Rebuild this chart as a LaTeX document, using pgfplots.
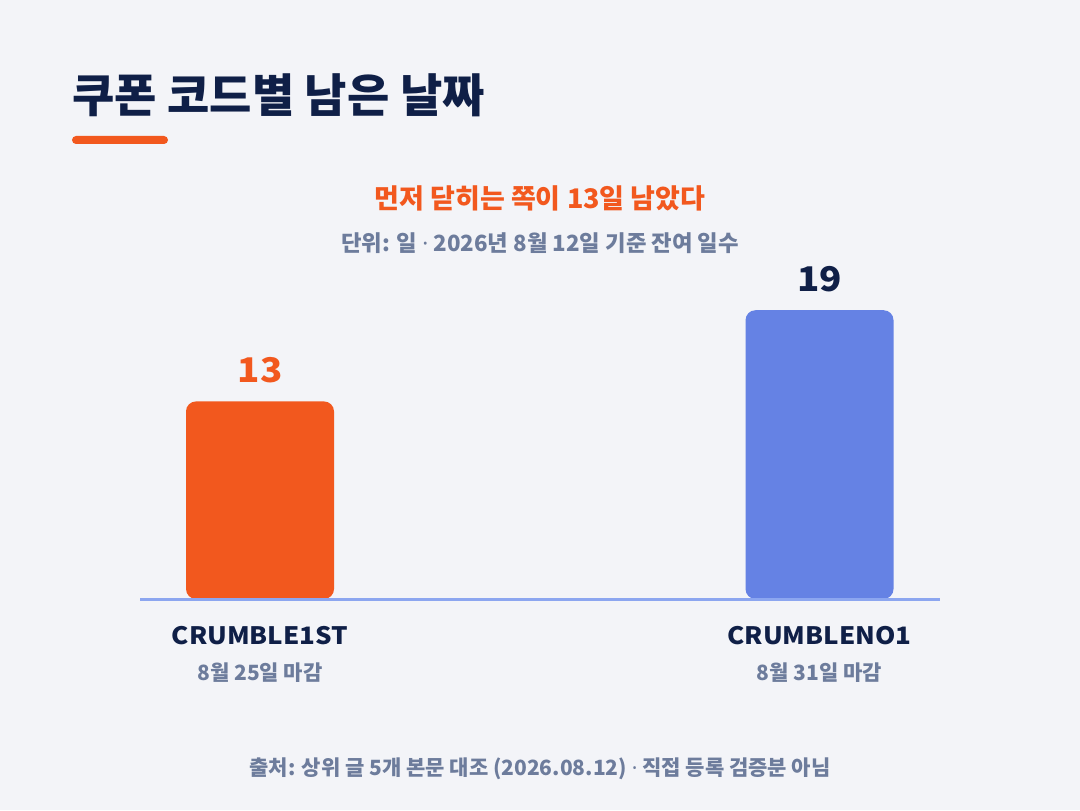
\documentclass[border=0pt]{standalone}
\usepackage{fontspec}
\setmainfont{Noto Sans CJK KR}
\newfontfamily\widefont{Noto Sans CJK KR}[FakeStretch=1.08]
\newfontfamily\latinfont{Noto Sans}
\usepackage{pgfplots}
\pgfplotsset{compat=1.18}

\definecolor{bgc}{HTML}{F3F4F8}
\definecolor{navy}{HTML}{0F1F47}
\definecolor{accent}{HTML}{F2581E}
\definecolor{barblue}{HTML}{6582E4}
\definecolor{baseblue}{HTML}{8CA6F0}
\definecolor{muted}{HTML}{6D7C9C}

\newcommand\fs[1]{\fontsize{#1}{#1}\selectfont}
\newcommand\md{{\latinfont\bfseries ·}}

\begin{document}
\begin{tikzpicture}
\begin{axis}[
  scale only axis, width=1080pt, height=810pt,
  xmin=-0.46470, xmax=1.46559,
  ymin=-13.882, ymax=39.408,
  axis line style={draw=none}, xtick=\empty, ytick=\empty,
  axis background/.style={fill=bgc},
  clip=false,
  /pgf/number format/assume math mode=true,
  ybar, bar width=148pt, bar shift=0pt,
  nodes near coords,
  every node near coord/.append style={anchor=center, yshift=31pt,
    font=\widefont\bfseries\fs{34}},
]
% bars: days left per coupon code
\addplot[fill=accent, draw=none, rounded corners=10pt, bar shift=0pt,
  every node near coord/.append style={text=accent}]
  coordinates {(0,13)};
\addplot[fill=barblue, draw=none, rounded corners=10pt, bar shift=0pt,
  every node near coord/.append style={text=navy}]
  coordinates {(1,19)};

\draw[baseblue, line width=3pt] (axis cs:-0.21448,0) -- (axis cs:1.21537,0);

% category labels
\node[text=navy, font=\widefont\bfseries\fs{24}, yshift=-36.5pt, inner sep=0]
  at (axis cs:0,0) {CRUMBLE1ST};
\node[text=muted, font=\bfseries\fs{21}, yshift=-73.5pt, inner sep=0]
  at (axis cs:0,0) {8월 25일 마감};
\node[text=navy, font=\widefont\bfseries\fs{24}, yshift=-36.5pt, inner sep=0]
  at (axis cs:1,0) {CRUMBLENO1};
\node[text=muted, font=\bfseries\fs{21}, yshift=-73.5pt, inner sep=0]
  at (axis cs:1,0) {8월 31일 마감};

% titles
\node[anchor=west, inner sep=0, text=navy, font=\bfseries\fs{46}]
  at (rel axis cs:0.06667,0.88272) {쿠폰 코드별 남은 날짜};
\fill[accent, rounded corners=4pt] (rel axis cs:0.06667,0.82222)
  rectangle (rel axis cs:0.15556,0.83210);
\node[inner sep=0, text=accent, font=\bfseries\fs{27}]
  at (rel axis cs:0.5,0.75556) {먼저 닫히는 쪽이 13일 남았다};
\node[inner sep=0, text=muted, font=\bfseries\fs{22.3}]
  at (rel axis cs:0.5,0.7) {단위: 일 \md{} 2026년 8월 12일 기준 잔여 일수};
\node[inner sep=0, text=muted, font=\bfseries\fs{21}]
  at (rel axis cs:0.5,0.05062) {출처: 상위 글 5개 본문 대조 (2026.08.12) \md{} 직접 등록 검증분 아님};
\end{axis}
\end{tikzpicture}
\end{document}
